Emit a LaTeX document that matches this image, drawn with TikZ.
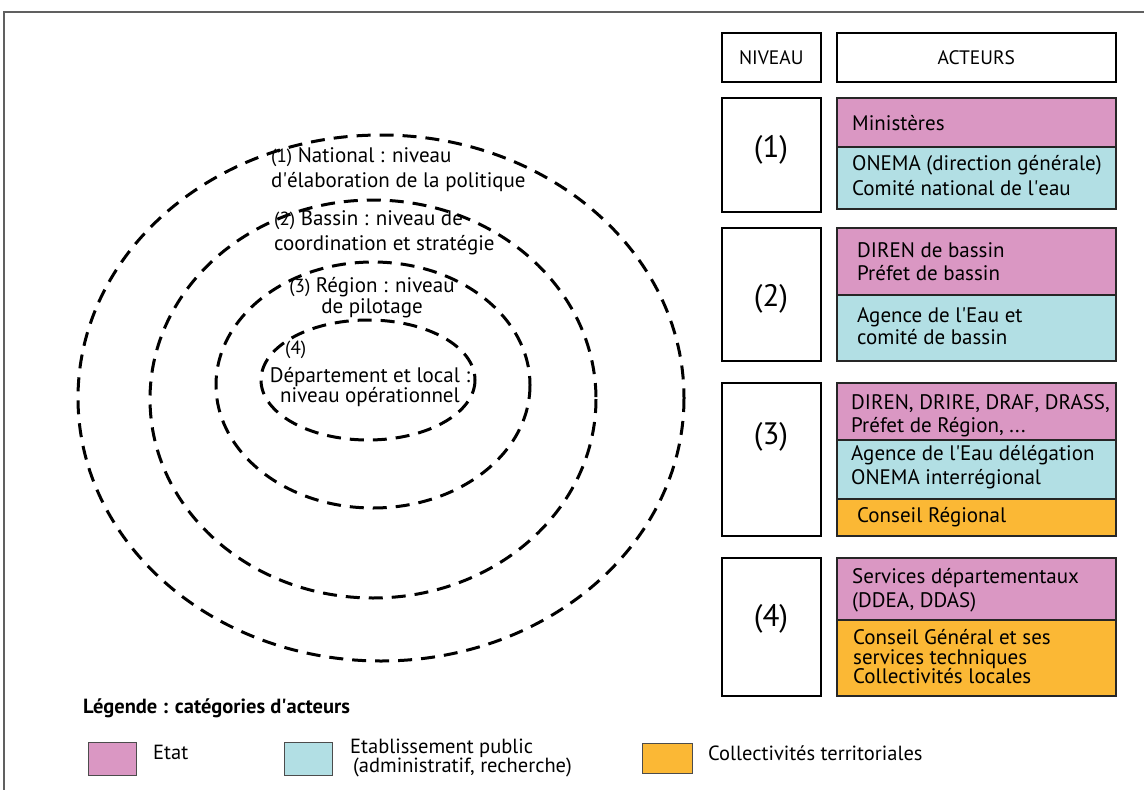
\documentclass[tikz,border=0pt]{standalone}
\usepackage{fontspec}
\setmainfont{PT Sans}
\definecolor{etat}{HTML}{DA97C3}
\definecolor{etab}{HTML}{B2DFE4}
\definecolor{coll}{HTML}{FBB835}
\definecolor{framec}{HTML}{606060}
\newcommand\bt{\fontsize{21}{24}\selectfont}
\newcommand\sm{\fontsize{19}{20}\selectfont}
\newcommand\q{\textquotesingle}
\begin{document}
\begin{tikzpicture}[x=1pt,y=-1pt,
  wbox/.style={draw=black, fill=white, line width=1.6pt, anchor=north west, inner sep=0pt},
  cbox/.style={draw=black!85, line width=1.6pt, anchor=north west, inner sep=0pt},
  txt/.style={anchor=west, inner sep=0pt, align=left, font=\bt},
  ring/.style={draw=black, line width=3pt, dash pattern=on 14pt off 9pt},
  lbox/.style={draw=black!70, line width=1pt, anchor=north west, inner sep=0pt, minimum width=48pt, minimum height=33pt},
  ltxt/.style={anchor=west, inner sep=0pt, align=left, font=\fontsize{20.5}{20}\selectfont}
]
\useasboundingbox (0,0) rectangle (1144,790);
\draw[framec, line width=1.5pt] (4,792) -- (4,12) -- (1146,12);

% rings
\draw[ring] (381,398) ellipse [x radius=303, y radius=263];
\draw[ring] (373,399) ellipse [x radius=223, y radius=199];
\draw[ring] (373,385) ellipse [x radius=157, y radius=123];
\draw[ring] (368,380) ellipse [x radius=107, y radius=60];

\node[txt, font=\fontsize{21}{25}\selectfont] (r1) at (271,169.5) {{\sm(1)} National : niveau\\d\q élaboration de la politique};
\node[txt, font=\fontsize{21}{25}\selectfont] (r2) at (274,232.5) {{\sm(2)} Bassin : niveau de\\coordination et stratégie};
\node[inner sep=0pt, align=center, font=\fontsize{21}{21}\selectfont] (r3) at (372,297.5) {{\sm(3)} Région : niveau\\de pilotage};
\node[txt] (r4n) at (285,350) {\sm(4)};
\node[inner sep=0pt, align=center, font=\fontsize{21}{20}\selectfont] (r4) at (370,387) {Département et local :\\niveau opérationnel};

% headers
\node[wbox, minimum width=99pt, minimum height=49pt] (nivH) at (721,32) {};
\node[font=\fontsize{19.5}{20}\selectfont] at (nivH.center) {NIVEAU};
\node[wbox, minimum width=279pt, minimum height=49pt] (actH) at (836,32) {};
\node[font=\fontsize{19.5}{20}\selectfont] at (actH.center) {ACTEURS};

% level boxes
\node[wbox, minimum width=99pt, minimum height=114pt] (n1) at (721,97) {};
\node[wbox, minimum width=99pt, minimum height=133pt] (n2) at (721,227) {};
\node[wbox, minimum width=99pt, minimum height=153pt] (n3) at (721,382) {};
\node[wbox, minimum width=99pt, minimum height=138pt] (n4) at (721,557) {};
\node[font=\fontsize{31}{32}\selectfont] (l1) at (771,150) {(1)};
\node[font=\fontsize{31}{32}\selectfont] (l2) at (771,299) {(2)};
\node[font=\fontsize{31}{32}\selectfont] (l3) at (771,437) {(3)};
\node[font=\fontsize{31}{32}\selectfont] (l4) at (771,619) {(4)};

% actor boxes
\node[cbox, fill=etat, minimum width=279pt, minimum height=49pt] (a1e) at (836,97) {};
\node[cbox, fill=etab, minimum width=279pt, minimum height=62pt] (a1p) at (836,146) {};
\node[cbox, fill=etat, minimum width=279pt, minimum height=67pt] (a2e) at (836,227) {};
\node[cbox, fill=etab, minimum width=279pt, minimum height=66pt] (a2p) at (836,294) {};
\node[cbox, fill=etat, minimum width=279pt, minimum height=57pt] (a3e) at (836,382) {};
\node[cbox, fill=etab, minimum width=279pt, minimum height=59pt] (a3p) at (836,439) {};
\node[cbox, fill=coll, minimum width=279pt, minimum height=37pt] (a3c) at (836,498) {};
\node[cbox, fill=etat, minimum width=279pt, minimum height=62pt] (a4e) at (836,557) {};
\node[cbox, fill=coll, minimum width=279pt, minimum height=76pt] (a4c) at (836,619) {};

\node[txt] (t1a) at (852,123) {Ministères};
\node[txt, font=\fontsize{21}{25}\selectfont] (t1b) at (852,176) {ONEMA (direction générale)\\Comité national de l\q eau};
\node[txt, font=\fontsize{21}{23}\selectfont] (t2a) at (857,262) {DIREN de bassin\\Préfet de bassin};
\node[txt, font=\fontsize{21}{22}\selectfont] (t2b) at (857,326) {Agence de l\q Eau et\\comité de bassin};
\node[txt, font=\fontsize{21}{23}\selectfont] (t3a) at (851,416) {DIREN, DRIRE, DRAF, DRASS,\\Préfet de Région, ...};
\node[txt, font=\fontsize{21}{24}\selectfont] (t3b) at (851,467) {Agence de l\q Eau délégation\\ONEMA interrégional};
\node[txt] (t3c) at (857,517) {Conseil Régional};
\node[txt, font=\fontsize{21}{24}\selectfont] (t4a) at (852,590) {Services départementaux\\(DDEA, DDAS)};
\node[txt, font=\fontsize{21}{19.5}\selectfont] (t4b) at (853,657) {Conseil Général et ses\\services techniques\\Collectivités locales};

% legend
\node[anchor=west, inner sep=0pt, font=\bfseries\fontsize{20.5}{20}\selectfont] (lt) at (83,708) {Légende : catégories d\q acteurs};
\node[lbox, fill=etat] (k1) at (88,742) {};
\node[ltxt] (k1t) at (153,752) {Etat};
\node[lbox, fill=etab] (k2) at (284,742) {};
\node[ltxt, font=\fontsize{20.5}{19}\selectfont] (k2t) at (350,758) {Etablissement public\\\hspace*{3pt}(administratif, recherche)};
\node[lbox, fill=coll, minimum width=50pt, minimum height=30pt] (k3) at (642,743) {};
\node[ltxt] (k3t) at (708,753) {Collectivités territoriales};
\end{tikzpicture}
\end{document}
